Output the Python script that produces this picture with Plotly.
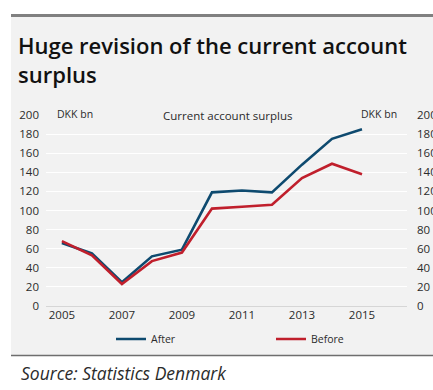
import plotly.graph_objects as go

years = [2005, 2006, 2007, 2008, 2009, 2010, 2011, 2012, 2013, 2014, 2015]
after = [66, 55, 25, 52, 59, 119, 121, 119, 148, 175, 185]
before = [68, 53, 23, 47, 56, 102, 104, 106, 134, 149, 138]
x_ticks = [2005, 2007, 2009, 2011, 2013, 2015]
y_ticks = list(range(0, 201, 20))

W, H = 433, 390
L, R, T, B = 46, 407, 115, 306  # plot area in pixels


def px(x):
    return (x - L) / (R - L)


def py(y):
    return (B - y) / (B - T)


FONT = "Open Sans"
TXT = "#2b2b2b"

fig = go.Figure()
fig.add_trace(go.Scatter(x=years, y=after, name="After", mode="lines",
                         line=dict(color="#0e4a6f", width=2.6), legend="legend"))
fig.add_trace(go.Scatter(x=years, y=before, name="Before", mode="lines",
                         line=dict(color="#c01f2c", width=2.6), legend="legend2"))
# invisible trace to anchor the right axis
fig.add_trace(go.Scatter(x=years, y=after, yaxis="y2", mode="lines",
                         line=dict(color="rgba(0,0,0,0)"), showlegend=False,
                         hoverinfo="skip"))

shapes = [
    dict(type="rect", xref="paper", yref="paper", x0=px(11), x1=px(440),
         y0=py(355), y1=py(17), fillcolor="#f2f2f2", line=dict(width=0), layer="below"),
    dict(type="rect", xref="paper", yref="paper", x0=px(11), x1=px(440),
         y0=py(17), y1=py(14), fillcolor="#808080", line=dict(width=0), layer="below"),
    dict(type="line", xref="paper", yref="paper", x0=px(11), x1=px(440),
         y0=py(355.5), y1=py(355.5), line=dict(color="#6e6e6e", width=1.5)),
]

annotations = [
    dict(text="DKK bn", xref="paper", yref="paper", x=px(55), y=py(114),
         xanchor="left", yanchor="middle", showarrow=False,
         font=dict(family=FONT, size=10.5, color=TXT)),
    dict(text="Current account surplus", xref="paper", yref="paper", x=px(228), y=py(115),
         xanchor="center", yanchor="middle", showarrow=False,
         font=dict(family=FONT, size=11.5, color=TXT)),
    dict(text="DKK bn", xref="paper", yref="paper", x=px(399), y=py(114),
         xanchor="right", yanchor="middle", showarrow=False,
         font=dict(family=FONT, size=10.5, color=TXT)),
    dict(text="<i>Source: Statistics Denmark</i>", xref="paper", yref="paper",
         x=px(19), y=py(373), xanchor="left", yanchor="middle", showarrow=False,
         font=dict(family=FONT, size=17.5, color=TXT)),
]

axis_font = dict(family=FONT, size=11.5, color=TXT)
legend_common = dict(orientation="h", xref="container", yref="container",
                     xanchor="left", yanchor="middle", bgcolor="rgba(0,0,0,0)",
                     font=dict(family=FONT, size=10.5, color=TXT), itemwidth=30)

fig.update_layout(
    width=W, height=H,
    margin=dict(l=L, r=W - R, t=T, b=H - B, pad=0),
    paper_bgcolor="white",
    plot_bgcolor="rgba(0,0,0,0)",
    title=dict(text="Huge revision of the current account<br>surplus",
               x=18 / W, xanchor="left", xref="container",
               y=1 - 54 / H, yanchor="top", yref="container",
               font=dict(family=FONT, size=22, color="#111111", weight=600)),
    xaxis=dict(range=[2004.47, 2016.5], tickvals=x_ticks, ticktext=[str(v) for v in x_ticks],
               showgrid=False, zeroline=False, showline=False, ticks="",
               tickfont=axis_font, automargin=False),
    yaxis=dict(range=[0, 200], tickvals=y_ticks, gridcolor="#ffffff", gridwidth=1,
               zeroline=True, zerolinecolor="#d6d6d6", zerolinewidth=1,
               showline=False, ticks="", tickfont=axis_font, ticklabelstandoff=6,
               automargin=False),
    yaxis2=dict(range=[0, 200], tickvals=y_ticks, overlaying="y", side="right",
                showgrid=False, zeroline=False, showline=False, ticks="",
                tickfont=axis_font, ticklabelstandoff=9, automargin=False),
    legend=dict(x=111 / W, y=1 - 339 / H, **legend_common),
    legend2=dict(x=271 / W, y=1 - 339 / H, **legend_common),
    shapes=shapes,
    annotations=annotations,
    showlegend=True,
)

fig.write_html("out.html")
